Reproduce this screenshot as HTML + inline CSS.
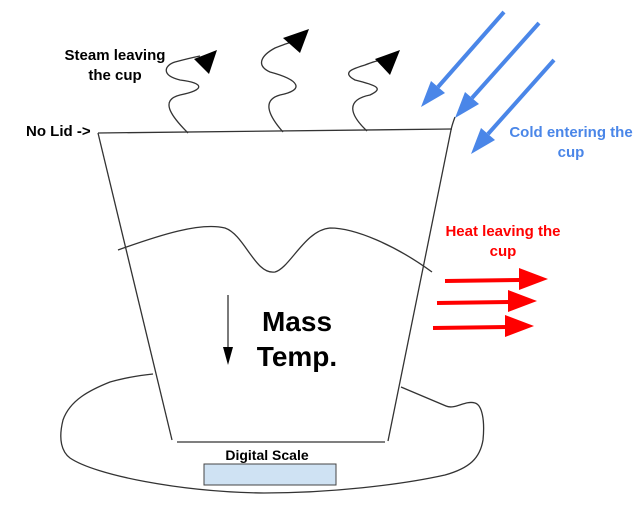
<!DOCTYPE html>
<html><head><meta charset="utf-8"><style>
body{margin:0;background:#fff;width:642px;height:517px;overflow:hidden}
svg{display:block}
text{font-family:"Liberation Sans",Arial,sans-serif;font-weight:bold}
</style></head><body>
<svg width="642" height="517" viewBox="0 0 642 517">
<g fill="none" stroke="#333" stroke-width="1.3">
<path d="M98,133 L452,129"/>
<path d="M98,133 L172,440"/>
<path d="M455,117 Q452,125 451,130 L388,441"/>
<path d="M177,442 L385,442"/>
<path d="M118,250 C160,235 200,222 225,228 C245,235 255,275 275,272 C290,268 305,230 330,228 C355,228 395,245 432,272"/>
<path d="M153,374 C135,376 125,378 110,382 C90,390 70,400 63,420 C58,440 62,452 70,458 C95,475 180,492 264,493 C330,493 400,485 445,475 C470,468 480,458 483,440 C485,420 482,405 475,403 C465,400 455,410 446,406 L401,387"/>
<path d="M188,133 C170,115 160,100 180,95 C205,90 205,83 180,80 C160,75 165,65 175,62 C190,58 195,57 200,56"/>
<path d="M283,132 C268,115 262,100 280,95 C305,90 300,80 270,72 C255,65 262,55 275,48 C285,44 288,43 292,42"/>
<path d="M367,131 C350,115 345,100 370,95 C385,88 375,85 355,80 C340,72 355,68 365,65 C375,61 380,60 383,60"/>
<path d="M228,295 L228,352"/>
</g>
<g fill="#000">
<polygon points="217,50 194,59 209,74"/>
<polygon points="309,29 283,38 300,53"/>
<polygon points="400,50 375,59 390,75"/>
<polygon points="228,365 223,347 233,347"/>
</g>
<g stroke="#4a86e8" stroke-width="4" fill="#4a86e8">
<line x1="504" y1="12" x2="438" y2="87"/>
<line x1="539" y1="23" x2="472" y2="98"/>
<line x1="554" y1="60" x2="488" y2="134"/>
<polygon stroke="none" points="421,107 445,93 431,81"/>
<polygon stroke="none" points="455,118 479,104 465,92"/>
<polygon stroke="none" points="471,154 495,140 481,128"/>
</g>
<g stroke="#f00" stroke-width="4" fill="#f00">
<line x1="445" y1="281" x2="520" y2="280"/>
<line x1="437" y1="303" x2="510" y2="302"/>
<line x1="433" y1="328" x2="507" y2="327"/>
<polygon stroke="none" points="548,279 519,268 519,290"/>
<polygon stroke="none" points="537,301 508,290 508,312"/>
<polygon stroke="none" points="534,326 505,315 505,337"/>
</g>
<rect x="204" y="464" width="132" height="21" fill="#cfe2f3" stroke="#444" stroke-width="1"/>
<text x="115" y="60" font-size="15" text-anchor="middle">Steam leaving</text>
<text x="115" y="80" font-size="15" text-anchor="middle">the cup</text>
<text x="26" y="136" font-size="15">No Lid -&gt;</text>
<text x="571" y="137" font-size="15" fill="#4a86e8" text-anchor="middle">Cold entering the</text>
<text x="571" y="157" font-size="15" fill="#4a86e8" text-anchor="middle">cup</text>
<text x="503" y="236" font-size="15" fill="#f00" text-anchor="middle">Heat leaving the</text>
<text x="503" y="256" font-size="15" fill="#f00" text-anchor="middle">cup</text>
<text x="297" y="331" font-size="28" text-anchor="middle">Mass</text>
<text x="297" y="366" font-size="28" text-anchor="middle">Temp.</text>
<text x="267" y="460" font-size="14" text-anchor="middle">Digital Scale</text>
</svg>
</body></html>
